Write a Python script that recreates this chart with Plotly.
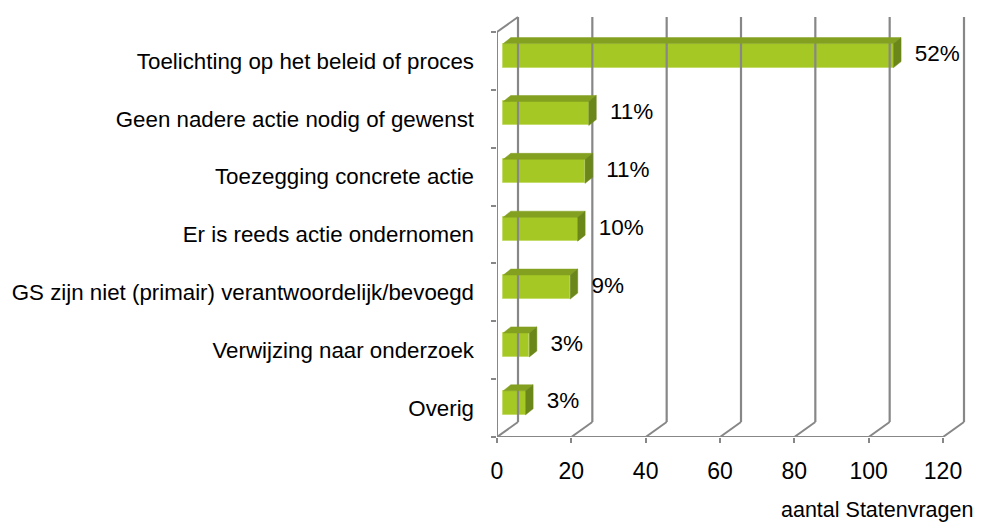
import plotly.graph_objects as go

# ---- data ----
categories = [
    "Toelichting op het beleid of proces",
    "Geen nadere actie nodig of gewenst",
    "Toezegging concrete actie",
    "Er is reeds actie ondernomen",
    "GS zijn niet (primair) verantwoordelijk/bevoegd",
    "Verwijzing naar onderzoek",
    "Overig",
]
values = [105, 23, 22, 20, 18, 7, 6]
x_ticks = [0, 20, 40, 60, 80, 100, 120]
x_title = "aantal Statenvragen"

total = sum(values)
pct_labels = [f"{round(v / total * 100)}%" for v in values]

# ---- geometry / style constants (pixel based) ----
OFF = 8                      # page body margin
W, H = 983 - OFF, 524 - OFF
ML = 497 - OFF
MT = 12 - OFF
plot_right = 975 - OFF
plot_bottom = 437 - OFF
MR = W - plot_right
MB = H - plot_bottom
PX_X = 446 / 120.0          # px per data unit along x
PX_Y = 57.86                # px per category
plot_w = W - ML - MR
plot_h = H - MT - MB
x_range = [0, plot_w / PX_X]
y_range = [-0.5, -0.5 + plot_h / PX_Y]

# full depth of the 3D box
DX = 21 / PX_X
DY = 15 / PX_Y
# bar plane offset and bar depth
BX = 6.3 / PX_X
BY = 5.3 / PX_Y
BDX = 7.5 / PX_X
BDY = 6.0 / PX_Y
BAR_H = 24 / PX_Y

n = len(categories)
ypos = [n - 1 - i for i in range(n)]
x_max = x_ticks[-1]

GRID = "#878787"
FRONT = "#a5c825"
TOP = "#84a020"
SIDE = "#6b8719"
EDGE = "#c4dc6c"

fig = go.Figure()

# back wall gridlines
gx, gy = [], []
for t in x_ticks:
    gx += [t + DX, t + DX, None]
    gy += [-0.5 + DY, n - 0.5 + DY, None]
fig.add_trace(go.Scatter(x=gx, y=gy, mode="lines", line=dict(color=GRID, width=2.2),
                         hoverinfo="skip", showlegend=False))

# floor diagonals + front axis + left wall front edge + top-left diagonal
fx, fy = [], []
for t in x_ticks:
    fx += [t, t + DX, None]
    fy += [-0.5, -0.5 + DY, None]
fx += [0, x_max, None, 0, 0, None, 0, DX, None]
fy += [-0.5, -0.5, None, -0.5, n - 0.5, None, n - 0.5, n - 0.5 + DY, None]
fig.add_trace(go.Scatter(x=fx, y=fy, mode="lines", line=dict(color=GRID, width=2),
                         hoverinfo="skip", showlegend=False))

# front faces of bars
fig.add_trace(go.Bar(
    x=values, y=[p + BY for p in ypos], base=[BX] * n, orientation="h",
    width=BAR_H, marker=dict(color=FRONT, line=dict(color=EDGE, width=1)),
    hoverinfo="skip", showlegend=False,
))

# top and side faces
tx, ty = [], []
sx, sy = [], []
for v, p in zip(values, ypos):
    yt = p + BY + BAR_H / 2
    yb = p + BY - BAR_H / 2
    tx += [BX, BX + v, BX + v + BDX, BX + BDX, BX, None]
    ty += [yt, yt, yt + BDY, yt + BDY, yt, None]
    sx += [BX + v, BX + v, BX + v + BDX, BX + v + BDX, BX + v, None]
    sy += [yb, yt, yt + BDY, yb + BDY, yb, None]
fig.add_trace(go.Scatter(x=tx, y=ty, mode="lines", fill="toself", fillcolor=TOP,
                         line=dict(color=TOP, width=0.5), hoverinfo="skip", showlegend=False))
fig.add_trace(go.Scatter(x=sx, y=sy, mode="lines", fill="toself", fillcolor=SIDE,
                         line=dict(color=SIDE, width=0.5), hoverinfo="skip", showlegend=False))

# percentage labels
fig.add_trace(go.Scatter(
    x=[BX + v + 5.7 for v in values], y=[p + BY for p in ypos],
    mode="text", text=pct_labels, textposition="middle right",
    textfont=dict(family="Liberation Sans", size=22.5, color="#000000"),
    hoverinfo="skip", showlegend=False, cliponaxis=False,
))

fig.update_layout(
    width=W, height=H,
    margin=dict(l=ML, r=MR, t=MT, b=MB),
    paper_bgcolor="white", plot_bgcolor="white",
    font=dict(family="Liberation Sans", color="#000000"),
    bargap=0,
    xaxis=dict(
        range=x_range, tickmode="array", tickvals=x_ticks,
        ticktext=[str(t) for t in x_ticks],
        showgrid=False, zeroline=False, showline=False,
        ticks="outside", ticklen=5, tickwidth=1.5, tickcolor=GRID,
        tickfont=dict(size=23), ticklabelstandoff=8,
    ),
    yaxis=dict(
        range=y_range, tickmode="array", tickvals=ypos, ticktext=categories,
        showgrid=False, zeroline=False, showline=False,
        ticks="", tickfont=dict(size=22.3), ticklabelstandoff=22,
        minor=dict(tickmode="array", tickvals=[k - 0.5 for k in range(n + 1)],
                   ticks="outside", ticklen=5, tickwidth=1.5, tickcolor=GRID,
                   showgrid=False),
    ),
    annotations=[dict(
        text=x_title, xref="paper", yref="paper", x=1, y=(437 - 510) / plot_h,
        xanchor="right", yanchor="middle", xshift=0, showarrow=False,
        font=dict(size=21.5, color="#000000"),
    )],
)

fig.write_html("out.html")
